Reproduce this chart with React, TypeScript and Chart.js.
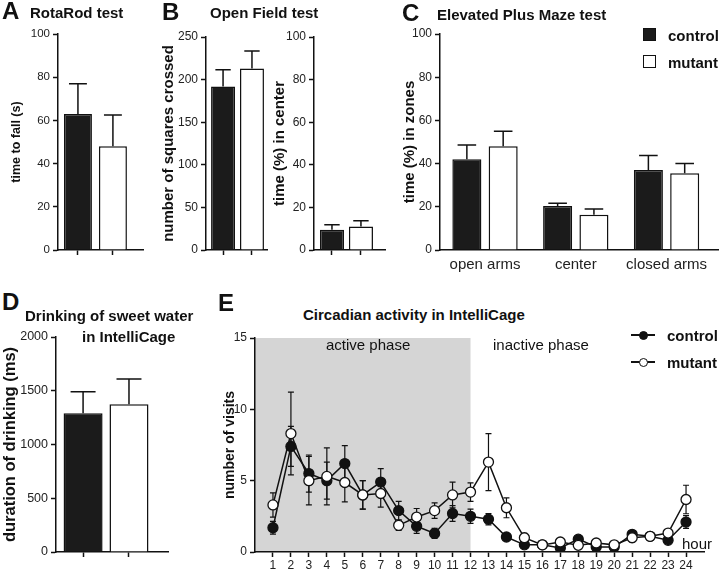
import React, { useEffect, useRef } from 'react';
import { Chart, registerables } from 'chart.js';

Chart.register(...registerables);

const FONT = '"Liberation Sans", Arial, Helvetica, sans-serif';
const INK = '#111111';
const TICK_INK = '#222222';
const BLACK_BAR = '#1b1b1b';
const WHITE_BAR = '#ffffff';
const SHADE = '#d5d5d5';

// ---------------- data ----------------
const groups = ['control', 'mutant'];

const rotarodMean = [63, 48];
const rotarodSem = [14, 14.5];

const squaresMean = [192, 213];
const squaresSem = [19.5, 20.5];

const centerTimeMean = [9.5, 11];
const centerTimeSem = [2.3, 2.7];

const mazeZones = ['open arms', 'center', 'closed arms'];
const mazeControl = [42, 20.4, 37];
const mazeControlSem = [6.6, 1.3, 6.8];
const mazeMutant = [48, 16.3, 35.5];
const mazeMutantSem = [7, 2.7, 4.6];

const drinkMean = [1290, 1375];
const drinkSem = [200, 235];

const hours = [1, 2, 3, 4, 5, 6, 7, 8, 9, 10, 11, 12, 13, 14, 15, 16, 17, 18, 19, 20, 21, 22, 23, 24];
const visitsControl = [1.7, 7.4, 5.5, 5.0, 6.2, 4.0, 4.9, 2.9, 1.8, 1.3, 2.7, 2.5, 2.3, 1.05, 0.5, 0.5, 0.28, 0.9, 0.35, 0.35, 1.24, 1.1, 0.82, 2.1];
const visitsControlSem = [0.45, 1.4, 1.3, 1.3, 1.25, 1.0, 0.95, 0.65, 0.5, 0.35, 0.55, 0.5, 0.4, 0.15, 0.15, 0.1, 0.15, 0.2, 0.15, 0.1, 0.2, 0.15, 0.2, 0.45];
const visitsMutant = [3.3, 8.3, 5.0, 5.3, 4.87, 4.0, 4.1, 1.87, 2.45, 2.9, 4.0, 4.2, 6.3, 3.1, 1.0, 0.5, 0.7, 0.47, 0.63, 0.5, 1.0, 1.1, 1.33, 3.68];
const visitsMutantSem = [0.85, 2.9, 1.7, 2.0, 1.35, 1.0, 0.95, 0.35, 0.6, 0.55, 0.9, 0.65, 2.0, 0.7, 0.3, 0.1, 0.15, 0.1, 0.15, 0.2, 0.3, 0.1, 0.2, 1.0];
const activePhase = [0, 12];

// ---------------- plugins ----------------
function drawErrors(chart: any, kind: string) {
  const ctx = chart.ctx;
  const yScale = chart.scales.y;
  chart.data.datasets.forEach((ds: any, di: number) => {
    const errs = ds.errors;
    if (!errs) return;
    const meta = chart.getDatasetMeta(di);
    if (meta.type !== kind) return;
    ctx.save();
    ctx.strokeStyle = INK;
    ctx.lineWidth = kind === 'bar' ? 1.5 : 1.2;
    meta.data.forEach((el: any, i: number) => {
      const v = ds.data[i].y;
      const e = errs[i];
      const x = el.x;
      const yTop = yScale.getPixelForValue(v + e);
      const yBot = kind === 'bar' ? el.y : yScale.getPixelForValue(v - e);
      const half = kind === 'bar' ? el.width * 0.32 : 3;
      ctx.beginPath();
      ctx.moveTo(x, yTop);
      ctx.lineTo(x, yBot);
      ctx.moveTo(x - half, yTop);
      ctx.lineTo(x + half, yTop);
      if (kind !== 'bar') {
        ctx.moveTo(x - half, yBot);
        ctx.lineTo(x + half, yBot);
      }
      ctx.stroke();
    });
    ctx.restore();
  });
}

const errorBarsPlugin = {
  id: 'errorBars',
  beforeDatasetsDraw(chart: any) {
    drawErrors(chart, 'line');
  },
  afterDatasetsDraw(chart: any) {
    drawErrors(chart, 'bar');
  },
};

const phaseShadePlugin = {
  id: 'phaseShade',
  beforeDraw(chart: any, _args: any, opts: any) {
    if (!opts || opts.to == null) return;
    const { ctx, chartArea } = chart;
    const xs = chart.scales.x;
    const x0 = xs.getPixelForValue(opts.from);
    const x1 = xs.getPixelForValue(opts.to);
    ctx.save();
    ctx.fillStyle = opts.color;
    ctx.fillRect(x0, chartArea.top, x1 - x0, chartArea.bottom - chartArea.top);
    ctx.restore();
  },
};

// ---------------- helpers ----------------
type Box = { x: number; y: number; w: number; h: number };
type Area = { l: number; t: number; r: number; b: number };

function axisStyle(showTicks: boolean) {
  return {
    border: { display: true, color: INK, width: 1.5 },
    grid: {
      display: true,
      drawOnChartArea: false,
      drawTicks: true,
      tickLength: 5,
      tickWidth: 1.5,
      tickColor: showTicks ? INK : 'rgba(0,0,0,0)',
      color: INK,
      offset: false,
    },
  };
}

function frameOptions(box: Box, area: Area, spec: any) {
  const titleSize = spec.yTitleSize ?? 13;
  return {
    responsive: false,
    maintainAspectRatio: false,
    animation: false,
    events: [],
    layout: {
      padding: { left: 0, top: area.t - box.y, right: box.x + box.w - area.r, bottom: 0 },
    },
    plugins: {
      legend: { display: false },
      tooltip: { enabled: false },
      ...(spec.plugins || {}),
    },
    scales: {
      x: {
        type: 'linear',
        min: spec.xMin,
        max: spec.xMax,
        offset: false,
        afterBuildTicks: (s: any) => {
          s.ticks = spec.xTicks.map((v: number) => ({ value: v }));
        },
        afterFit: (s: any) => {
          s.height = box.y + box.h - area.b;
        },
        ticks: {
          autoSkip: false,
          maxRotation: 0,
          minRotation: 0,
          padding: spec.xPad ?? 2,
          color: TICK_INK,
          font: { family: FONT, size: spec.xFontSize ?? 12 },
          callback: (_v: any, i: number) => (spec.xLabels ? spec.xLabels[i] ?? '' : ''),
        },
        ...axisStyle(spec.xTickMarks !== false),
      },
      y: {
        min: spec.yMin,
        max: spec.yMax,
        afterFit: (s: any) => {
          s.width = area.l - box.x;
        },
        ticks: {
          stepSize: spec.yStep,
          padding: 3,
          color: TICK_INK,
          font: { family: FONT, size: spec.yTickSize ?? 12 },
          callback: (v: any) => String(v),
        },
        title: {
          display: true,
          text: spec.yTitle,
          color: INK,
          font: { family: FONT, size: titleSize, weight: 'bold' },
          padding: { top: Math.max(0, spec.yTitleX - box.x - titleSize * 0.6), bottom: 0 },
        },
        ...axisStyle(true),
      },
    },
  };
}

function barData(means: number[], sems: number[], colors: any, barPct: number, catPct: number, label: string) {
  return {
    label,
    data: means.map((m, i) => ({ x: i + 1, y: m })),
    backgroundColor: colors,
    borderColor: INK,
    borderWidth: 1.5,
    barPercentage: barPct,
    categoryPercentage: catPct,
    errors: sems,
  };
}

function ChartBox({ box, build }: { box: Box; build: () => any }) {
  const ref = useRef<HTMLCanvasElement | null>(null);
  useEffect(() => {
    if (!ref.current) return;
    const chart = new Chart(ref.current, build());
    return () => chart.destroy();
  }, []);
  return (
    <canvas
      ref={ref}
      width={box.w}
      height={box.h}
      style={{ position: 'absolute', left: box.x, top: box.y, width: box.w, height: box.h }}
    />
  );
}

function Txt({ x, cy, size = 15, bold = true, children }: any) {
  return (
    <div
      style={{
        position: 'absolute',
        left: x,
        top: cy - size / 2,
        fontSize: size,
        lineHeight: `${size}px`,
        fontWeight: bold ? 700 : 400,
        whiteSpace: 'nowrap',
        color: INK,
        fontFamily: FONT,
      }}
    >
      {children}
    </div>
  );
}

// ---------------- panel configs ----------------
const boxA: Box = { x: 0, y: 20, w: 150, h: 262 };
const areaA: Area = { l: 58, t: 34, r: 143, b: 250 };
const buildA = () => ({
  type: 'bar',
  data: { datasets: [barData(rotarodMean, rotarodSem, [BLACK_BAR, WHITE_BAR], 0.8, 1, 'time to fall')] },
  options: frameOptions(boxA, areaA, {
    xMin: 0.43, xMax: 2.86, xTicks: groups.map((_, i) => i + 1),
    yMin: 0, yMax: 100, yStep: 20, yTickSize: 11.5,
    yTitle: 'time to fall (s)', yTitleX: 17, yTitleSize: 12.5,
  }),
  plugins: [errorBarsPlugin],
});

const boxB1: Box = { x: 150, y: 20, w: 125, h: 262 };
const areaB1: Area = { l: 206, t: 37, r: 267, b: 250 };
const buildB1 = () => ({
  type: 'bar',
  data: { datasets: [barData(squaresMean, squaresSem, [BLACK_BAR, WHITE_BAR], 0.83, 1, 'squares')] },
  options: frameOptions(boxB1, areaB1, {
    xMin: 0.41, xMax: 2.52, xTicks: groups.map((_, i) => i + 1),
    yMin: 0, yMax: 250, yStep: 50,
    yTitle: 'number of squares crossed', yTitleX: 169, yTitleSize: 15,
  }),
  plugins: [errorBarsPlugin],
});

const boxB2: Box = { x: 265, y: 20, w: 128, h: 262 };
const areaB2: Area = { l: 314, t: 37, r: 385, b: 250 };
const buildB2 = () => ({
  type: 'bar',
  data: { datasets: [barData(centerTimeMean, centerTimeSem, [BLACK_BAR, WHITE_BAR], 0.83, 1, 'center')] },
  options: frameOptions(boxB2, areaB2, {
    xMin: 0.38, xMax: 2.83, xTicks: groups.map((_, i) => i + 1),
    yMin: 0, yMax: 100, yStep: 20,
    yTitle: 'time (%) in center', yTitleX: 280, yTitleSize: 15,
  }),
  plugins: [errorBarsPlugin],
});

const boxC: Box = { x: 395, y: 20, w: 325, h: 262 };
const areaC: Area = { l: 440, t: 34, r: 718, b: 250 };
const buildC = () => ({
  type: 'bar',
  data: {
    datasets: [
      barData(mazeControl, mazeControlSem, BLACK_BAR, 0.8, 0.8, groups[0]),
      barData(mazeMutant, mazeMutantSem, WHITE_BAR, 0.8, 0.8, groups[1]),
    ],
  },
  options: frameOptions(boxC, areaC, {
    xMin: 0.504, xMax: 3.567, xTicks: mazeZones.map((_, i) => i + 1), xLabels: mazeZones,
    xFontSize: 15, xPad: 1, xTickMarks: false,
    yMin: 0, yMax: 100, yStep: 20,
    yTitle: 'time (%) in zones', yTitleX: 410, yTitleSize: 15,
  }),
  plugins: [errorBarsPlugin],
});

const boxD: Box = { x: 0, y: 325, w: 180, h: 245 };
const areaD: Area = { l: 56, t: 337, r: 168, b: 552 };
const buildD = () => ({
  type: 'bar',
  data: { datasets: [barData(drinkMean, drinkSem, [BLACK_BAR, WHITE_BAR], 0.85, 1, 'drinking')] },
  options: frameOptions(boxD, areaD, {
    xMin: 0.41, xMax: 2.85, xTicks: groups.map((_, i) => i + 1),
    yMin: 0, yMax: 2000, yStep: 500, yTickSize: 12.5,
    yTitle: 'duration of drinking (ms)', yTitleX: 10, yTitleSize: 16.5,
  }),
  plugins: [errorBarsPlugin],
});

const boxE: Box = { x: 215, y: 325, w: 505, h: 245 };
const areaE: Area = { l: 255, t: 338, r: 704, b: 552 };
const buildE = () => ({
  type: 'line',
  data: {
    datasets: [
      {
        label: groups[0],
        data: hours.map((h, i) => ({ x: h, y: visitsControl[i] })),
        borderColor: INK,
        borderWidth: 1.5,
        pointRadius: 5,
        pointBorderWidth: 1.3,
        pointBackgroundColor: INK,
        pointBorderColor: INK,
        tension: 0,
        order: 1,
        errors: visitsControlSem,
      },
      {
        label: groups[1],
        data: hours.map((h, i) => ({ x: h, y: visitsMutant[i] })),
        borderColor: INK,
        borderWidth: 1.5,
        pointRadius: 5,
        pointBorderWidth: 1.3,
        pointBackgroundColor: '#ffffff',
        pointBorderColor: INK,
        tension: 0,
        order: 0,
        errors: visitsMutantSem,
      },
    ],
  },
  options: frameOptions(boxE, areaE, {
    xMin: 0, xMax: 25, xTicks: hours, xLabels: hours.map(String), xPad: 1,
    yMin: 0, yMax: 15, yStep: 5,
    yTitle: 'number of visits', yTitleX: 230, yTitleSize: 14,
    plugins: { phaseShade: { from: activePhase[0], to: activePhase[1], color: SHADE } },
  }),
  plugins: [phaseShadePlugin, errorBarsPlugin],
});

function LegendSquare({ x, y, fill }: any) {
  return (
    <div
      style={{
        position: 'absolute',
        left: x,
        top: y,
        width: 13,
        height: 13,
        boxSizing: 'border-box',
        background: fill,
        border: `1.5px solid ${INK}`,
      }}
    />
  );
}

function LegendLine({ x, cy, fill }: any) {
  return (
    <div style={{ position: 'absolute', left: x, top: cy - 5, width: 24, height: 10 }}>
      <div style={{ position: 'absolute', left: 0, top: 4.25, width: 24, height: 1.5, background: INK }} />
      <div
        style={{
          position: 'absolute',
          left: 7.5,
          top: 0.5,
          width: 9,
          height: 9,
          boxSizing: 'border-box',
          borderRadius: '50%',
          background: fill,
          border: `1.3px solid ${INK}`,
        }}
      />
    </div>
  );
}

export default function App() {
  return (
    <div
      style={{
        position: 'fixed',
        left: 0,
        top: 0,
        width: 720,
        height: 570,
        background: '#ffffff',
        overflow: 'hidden',
        fontFamily: FONT,
      }}
    >
      <ChartBox box={boxA} build={buildA} />
      <ChartBox box={boxB1} build={buildB1} />
      <ChartBox box={boxB2} build={buildB2} />
      <ChartBox box={boxC} build={buildC} />
      <ChartBox box={boxD} build={buildD} />
      <ChartBox box={boxE} build={buildE} />

      <Txt x={2} cy={11} size={24}>A</Txt>
      <Txt x={30} cy={12.5}>RotaRod test</Txt>
      <Txt x={162} cy={12} size={24}>B</Txt>
      <Txt x={210} cy={12.5}>Open Field test</Txt>
      <Txt x={402} cy={13} size={24}>C</Txt>
      <Txt x={437} cy={14}>Elevated Plus Maze test</Txt>

      <LegendSquare x={643} y={28} fill={BLACK_BAR} />
      <Txt x={668} cy={35}>control</Txt>
      <LegendSquare x={643} y={55} fill={WHITE_BAR} />
      <Txt x={668} cy={62}>mutant</Txt>

      <Txt x={2} cy={302} size={24}>D</Txt>
      <Txt x={25} cy={315}>Drinking of sweet water</Txt>
      <Txt x={82} cy={336}>in IntelliCage</Txt>

      <Txt x={218} cy={303} size={24}>E</Txt>
      <Txt x={303} cy={314}>Circadian activity in IntelliCage</Txt>
      <Txt x={326} cy={344} bold={false}>active phase</Txt>
      <Txt x={493} cy={344} bold={false}>inactive phase</Txt>
      <Txt x={682} cy={543} bold={false}>hour</Txt>

      <LegendLine x={631} cy={335} fill={INK} />
      <Txt x={667} cy={335}>control</Txt>
      <LegendLine x={631} cy={362} fill="#ffffff" />
      <Txt x={667} cy={362}>mutant</Txt>
    </div>
  );
}
